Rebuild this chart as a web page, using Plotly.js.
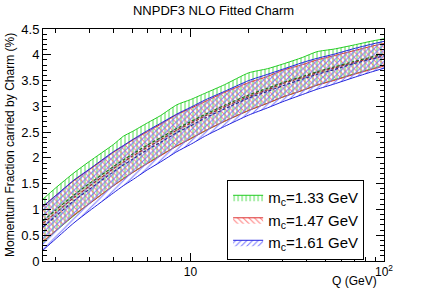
<!DOCTYPE html>
<html>
<head>
<meta charset="utf-8">
<script src="https://cdn.plot.ly/plotly-3.0.1.min.js"></script>
<style>html,body{margin:0;padding:0;background:#fff;}#chart{width:427px;height:290px;}</style>
</head>
<body>
<div id="chart"></div>
<script>
// Q values (GeV)
const Q = [1.73, 2, 2.5, 3, 4, 4.5, 5, 6, 7, 8.5, 10, 12, 15, 20, 25, 30, 38, 45, 55, 70, 85, 100];

// mc = 1.33 GeV
const green_central = [0.78, 0.98, 1.28, 1.50, 1.83, 1.96, 2.07, 2.25, 2.39, 2.57, 2.70, 2.85, 3.02, 3.22, 3.35, 3.46, 3.58, 3.67, 3.76, 3.87, 3.95, 4.02];
const green_upper   = [1.20, 1.41, 1.71, 1.93, 2.26, 2.42, 2.51, 2.68, 2.82, 3.03, 3.13, 3.26, 3.42, 3.65, 3.73, 3.82, 3.95, 4.06, 4.11, 4.19, 4.26, 4.31];
const green_lower   = [0.36, 0.57, 0.88, 1.11, 1.46, 1.60, 1.71, 1.90, 2.05, 2.23, 2.37, 2.53, 2.71, 2.92, 3.06, 3.18, 3.31, 3.41, 3.51, 3.63, 3.72, 3.80];

// mc = 1.47 GeV
const red_central = [0.73, 0.93, 1.23, 1.45, 1.79, 1.92, 2.03, 2.21, 2.35, 2.54, 2.67, 2.82, 2.99, 3.19, 3.32, 3.44, 3.56, 3.65, 3.74, 3.85, 3.93, 4.00];
const red_upper   = [1.06, 1.26, 1.56, 1.77, 2.11, 2.23, 2.34, 2.51, 2.65, 2.84, 2.96, 3.10, 3.27, 3.46, 3.58, 3.70, 3.81, 3.90, 3.98, 4.08, 4.16, 4.22];
const red_lower   = [0.38, 0.58, 0.89, 1.11, 1.46, 1.59, 1.71, 1.89, 2.04, 2.23, 2.37, 2.53, 2.71, 2.92, 3.06, 3.18, 3.31, 3.41, 3.50, 3.62, 3.71, 3.78];

// mc = 1.61 GeV
const blue_central = [0.66, 0.86, 1.17, 1.39, 1.73, 1.86, 1.97, 2.16, 2.30, 2.49, 2.62, 2.78, 2.95, 3.16, 3.29, 3.40, 3.53, 3.62, 3.71, 3.83, 3.91, 3.98];
const blue_upper   = [1.06, 1.26, 1.57, 1.78, 2.12, 2.24, 2.35, 2.53, 2.67, 2.85, 2.98, 3.13, 3.29, 3.50, 3.62, 3.72, 3.85, 3.93, 4.01, 4.12, 4.20, 4.26];
const blue_lower   = [0.21, 0.42, 0.74, 0.97, 1.32, 1.46, 1.57, 1.77, 1.92, 2.12, 2.26, 2.43, 2.61, 2.83, 2.97, 3.09, 3.23, 3.33, 3.43, 3.56, 3.66, 3.74];

const seriesNames = ['m<sub>c</sub>=1.33 GeV', 'm<sub>c</sub>=1.47 GeV', 'm<sub>c</sub>=1.61 GeV'];
const xTickVals = [10, 100];
const xTickText = ['10', '10<sup>2</sup>'];
const xMinorVals = [2, 3, 4, 5, 6, 7, 8, 9, 20, 30, 40, 50, 60, 70, 80, 90];

const bands = [
  {name: seriesNames[0], lo: green_lower, hi: green_upper, c: green_central, line: '#22cc22', hatch: '#55dd55', dark: '#1f6f1f', shape: '|'},
  {name: seriesNames[1], lo: red_lower, hi: red_upper, c: red_central, line: '#dd3333', hatch: '#ff7777', dark: '#993333', shape: '\\'},
  {name: seriesNames[2], lo: blue_lower, hi: blue_upper, c: blue_central, line: '#2222dd', hatch: '#7777ff', dark: '#2a2a99', shape: '/'}
];

const traces = [];
bands.forEach((b, i) => {
  traces.push({x: Q, y: b.lo, mode: 'lines', line: {color: b.line, width: 1, shape: 'spline', smoothing: 0.6}, showlegend: false, hoverinfo: 'skip'});
  traces.push({x: Q, y: b.hi, mode: 'lines', fill: 'tonexty', fillcolor: 'rgba(0,0,0,0)',
    fillpattern: {shape: b.shape, fgcolor: b.hatch, bgcolor: 'rgba(0,0,0,0)', size: 4, solidity: 0.25},
    line: {color: b.line, width: 1, shape: 'spline', smoothing: 0.6}, name: b.name, legendrank: i + 1, showlegend: true});
});
bands.forEach((b) => {
  traces.push({x: Q, y: b.c, mode: 'lines', line: {color: b.dark, width: 1.2, dash: '3px,2px', shape: 'spline', smoothing: 0.6}, showlegend: false});
});

const font = 'Liberation Sans, Arial, sans-serif';
const layout = {
  width: 427, height: 290,
  margin: {l: 43, r: 43, t: 29, b: 29},
  paper_bgcolor: '#fff', plot_bgcolor: '#fff',
  font: {family: font, size: 13, color: '#000'},
  title: {text: 'NNPDF3 NLO Fitted Charm', x: 0.5, xanchor: 'center', y: 0.965, yanchor: 'middle', font: {family: font, size: 13}},
  xaxis: {
    type: 'log', range: [Math.log10(1.73), 2],
    tickmode: 'array', tickvals: xTickVals, ticktext: xTickText,
    ticks: 'inside', ticklen: 8, tickcolor: '#000', tickfont: {size: 12},
    showline: true, linecolor: '#000', linewidth: 1, mirror: 'allticks',
    showgrid: false, zeroline: false,
    minor: {tickmode: 'array', tickvals: xMinorVals, ticks: 'inside', ticklen: 4, tickcolor: '#000', showgrid: false}
  },
  yaxis: {
    range: [0, 4.5], tick0: 0, dtick: 0.5,
    ticks: 'inside', ticklen: 8, tickcolor: '#000', tickfont: {size: 13},
    showline: true, linecolor: '#000', linewidth: 1, mirror: 'allticks',
    showgrid: false, zeroline: false,
    minor: {dtick: 0.1, ticks: 'inside', ticklen: 4, tickcolor: '#000', showgrid: false}
  },
  legend: {x: 0.54, y: 0.349, xanchor: 'left', yanchor: 'top', bgcolor: '#fff', bordercolor: '#000', borderwidth: 1,
    font: {family: font, size: 15}, traceorder: 'normal', itemwidth: 30},
  annotations: [
    {text: 'Q (GeV)', xref: 'paper', yref: 'paper', x: 0.985, y: -0.088, xanchor: 'right', yanchor: 'middle', showarrow: false, font: {size: 12}},
    {text: 'Momentum Fraction carried by Charm (%)', xref: 'paper', yref: 'paper', x: -0.097, y: 0.5, xanchor: 'center', yanchor: 'middle', textangle: -90, showarrow: false, font: {size: 12}}
  ]
};

Plotly.newPlot('chart', traces, layout, {displayModeBar: false, staticPlot: true});
</script>
</body>
</html>
